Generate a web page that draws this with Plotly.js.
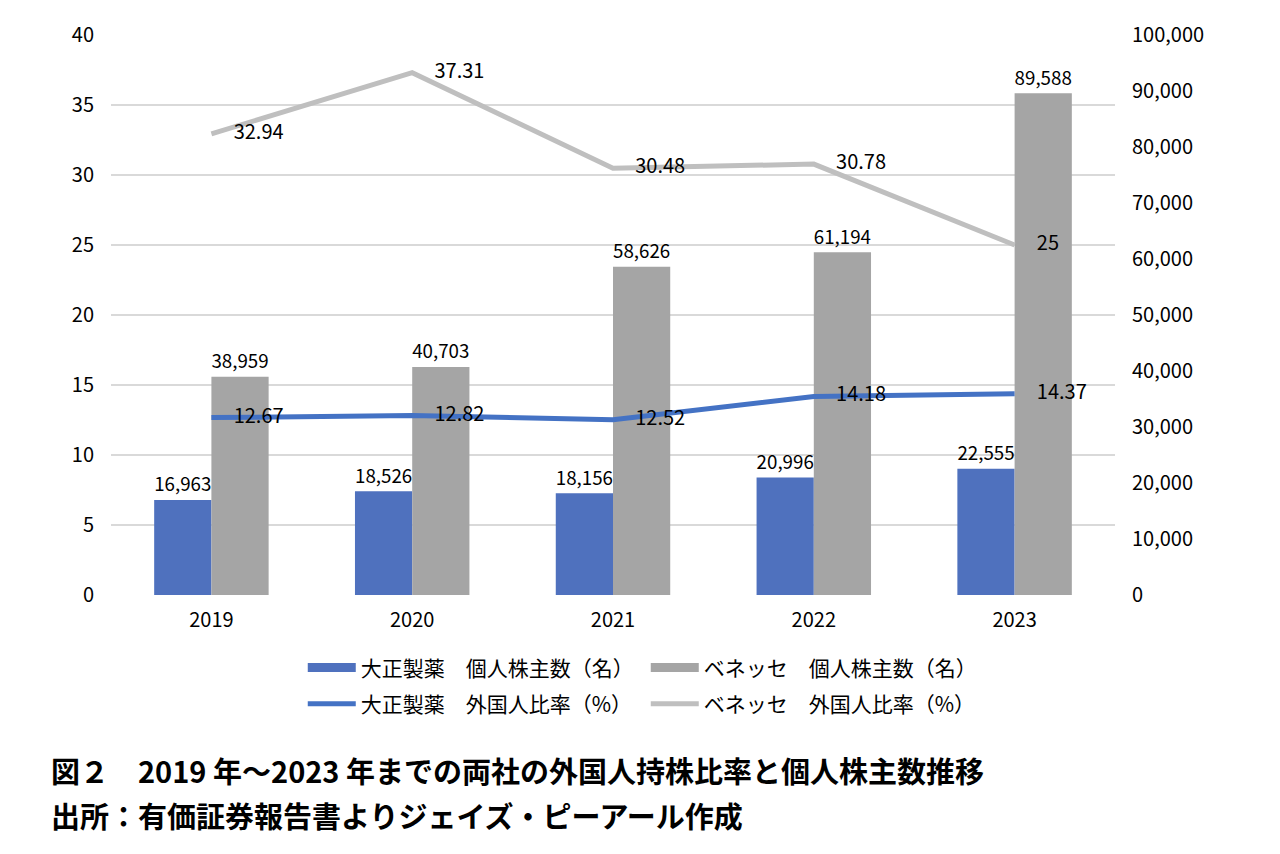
<!DOCTYPE html>
<html>
<head>
<meta charset="utf-8">
<script src="https://cdn.plot.ly/plotly-3.0.1.min.js"></script>
<style>
  body { margin: 0; background: #fff; }
  #chart { width: 1280px; height: 854px; }
</style>
</head>
<body>
<div id="chart"></div>
<script>
const years = ['2019', '2020', '2021', '2022', '2023'];
const taishoHolders = [16963, 18526, 18156, 20996, 22555];
const benesseHolders = [38959, 40703, 58626, 61194, 89588];
const taishoForeign = [12.67, 12.82, 12.52, 14.18, 14.37];
const benesseForeign = [32.94, 37.31, 30.48, 30.78, 25];

const FONT = '"Noto Sans CJK JP", "Noto Sans", sans-serif';
const BLUE_BAR = '#4F71BE';
const GRAY_BAR = '#A5A5A5';
const BLUE_LINE = '#4472C4';
const GRAY_LINE = '#BFBFBF';

const labelFont = { family: FONT, size: 20, color: '#000' };

function barTrace(name, values, color) {
  return {
    type: 'bar',
    name: name,
    x: years,
    y: values,
    yaxis: 'y',
    marker: { color: color },
    texttemplate: '%{y:,}',
    textposition: 'outside',
    textfont: labelFont,
    cliponaxis: false,
    showlegend: false,
  };
}

// legend key only: a wide flat swatch like the bar keys in the original
function barKey(name, color) {
  return {
    type: 'scatter',
    mode: 'lines',
    name: name,
    x: years,
    y: years.map(() => null),
    yaxis: 'y',
    line: { color: color, width: 9 },
    legend: 'legend',
    hoverinfo: 'skip',
  };
}

function lineTrace(name, values, color) {
  return {
    type: 'scatter',
    mode: 'lines+markers+text',
    name: name,
    x: years,
    y: values,
    yaxis: 'y2',
    line: { color: color, width: 5 },
    marker: { size: 34, color: 'rgba(0,0,0,0)' },
    text: values.map(v => String(v)),
    textposition: 'middle right',
    textfont: labelFont,
    cliponaxis: false,
    legend: 'legend2',
  };
}

const traces = [
  barTrace('大正製薬\u3000個人株主数（名）', taishoHolders, BLUE_BAR),
  barTrace('ベネッセ\u3000個人株主数（名）', benesseHolders, GRAY_BAR),
  barKey('大正製薬\u3000個人株主数（名）', BLUE_BAR),
  barKey('ベネッセ\u3000個人株主数（名）', GRAY_BAR),
  lineTrace('大正製薬\u3000外国人比率（%）', taishoForeign, BLUE_LINE),
  lineTrace('ベネッセ\u3000外国人比率（%）', benesseForeign, GRAY_LINE),
];

const legendBase = {
  orientation: 'h',
  xanchor: 'left',
  x: 0.191,
  yanchor: 'middle',
  font: { family: FONT, size: 21, color: '#000' },
  itemwidth: 48,
  entrywidth: 280,
  bgcolor: 'rgba(0,0,0,0)',
};

const tickFont = { family: FONT, size: 20, color: '#000' };

const layout = {
  width: 1280,
  height: 854,
  margin: { l: 111, r: 165, t: 35, b: 259 },
  paper_bgcolor: '#fff',
  plot_bgcolor: '#fff',
  font: { family: FONT, size: 20, color: '#000' },
  barmode: 'group',
  bargap: 0.43,
  bargroupgap: 0,
  showlegend: true,
  legend: Object.assign({}, legendBase, { y: -0.130 }),
  legend2: Object.assign({}, legendBase, { y: -0.195 }),
  xaxis: {
    type: 'category',
    showgrid: false,
    showline: false,
    zeroline: false,
    ticks: '',
    ticklabelstandoff: 11,
    tickfont: tickFont,
  },
  yaxis: {
    side: 'right',
    range: [0, 100000],
    dtick: 10000,
    tickformat: ',',
    showgrid: false,
    zeroline: false,
    showline: false,
    ticks: '',
    ticklabelstandoff: 16,
    tickfont: tickFont,
  },
  yaxis2: {
    side: 'left',
    overlaying: 'y',
    range: [0, 40],
    dtick: 5,
    showgrid: true,
    gridcolor: '#D9D9D9',
    gridwidth: 1.5,
    zeroline: false,
    showline: false,
    ticks: '',
    ticklabelstandoff: 16,
    tickfont: tickFont,
  },
  annotations: [
    {
      xref: 'paper', yref: 'paper',
      x: -0.062, y: -0.313,
      xanchor: 'left', yanchor: 'middle',
      showarrow: false,
      text: '<b>図２\u30002019 年～2023 年までの両社の外国人持株比率と個人株主数推移</b>',
      font: { family: FONT, size: 29, color: '#000' },
    },
    {
      xref: 'paper', yref: 'paper',
      x: -0.062, y: -0.393,
      xanchor: 'left', yanchor: 'middle',
      showarrow: false,
      text: '<b>出所：有価証券報告書よりジェイズ・ピーアール作成</b>',
      font: { family: FONT, size: 29, color: '#000' },
    },
  ],
};

Plotly.newPlot('chart', traces, layout, {
  displayModeBar: false,
  staticPlot: true,
});
</script>
</body>
</html>
